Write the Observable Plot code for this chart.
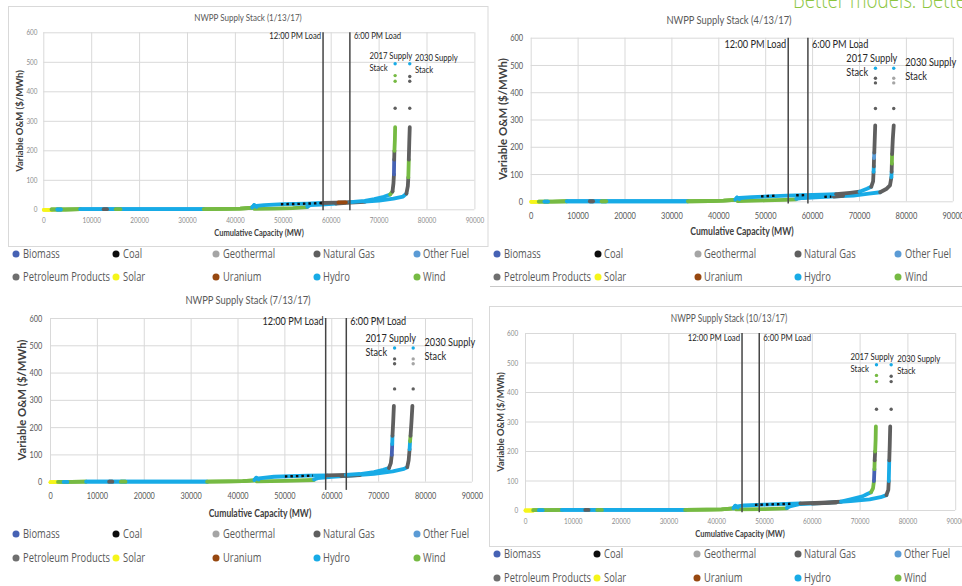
<!DOCTYPE html>
<html>
<head>
<meta charset="utf-8">
<script src="https://cdn.jsdelivr.net/npm/d3@7"></script>
<script src="https://cdn.jsdelivr.net/npm/@observablehq/plot@0.6"></script>
<style>
  html, body { margin: 0; padding: 0; background: #fff; }
  body { position: relative; width: 962px; height: 586px; overflow: hidden; font-family: Lato, "Open Sans", sans-serif; }
  .abs { position: absolute; white-space: nowrap; line-height: 1; }
  .ctr { transform: translate(-50%, -50%) scaleX(0.78); }
  .title { color: #595959; }
  .xtitle { font-weight: 700; color: #404040; }
  .ytitle { font-weight: 700; color: #404040; transform: translate(-50%, -50%) rotate(-90deg); }
  .lg { font-family: "Open Sans", sans-serif; font-size: 12px; color: #595959; transform-origin: 0 50%; transform: translateY(-50%) scaleX(0.78); }
  .mk { width: 7px; height: 7px; border-radius: 50%; transform: translate(-50%, -50%); }
  svg.frames { position: absolute; left: 0; top: 0; }
</style>
</head>
<body>
<svg class="frames" width="962" height="586">
  <rect x="8.5" y="6.5" width="479.5" height="240" fill="none" stroke="#d9d9d9"/>
  <rect x="489.5" y="306.5" width="480" height="240" fill="none" stroke="#d9d9d9"/>
  <line x1="490" x2="962" y1="286.5" y2="286.5" stroke="#c8c8c8"/>
</svg>
<script>
// Fuel types and their marker colours
const fuelNames = ["Biomass", "Coal", "Geothermal", "Natural Gas", "Other Fuel",
                   "Petroleum Products", "Solar", "Uranium", "Hydro", "Wind"];
const fuelColors = ["#4662b4", "#0d0d0d", "#a5a5a5", "#5f5f5f", "#5b9bd5",
                    "#6f6f6f", "#f5f51a", "#974810", "#18abe6", "#76ba43"];

const capacityTicks = [0, 10000, 20000, 30000, 40000, 50000, 60000, 70000, 80000, 90000];
const costTicks = [0, 100, 200, 300, 400, 500, 600];

const stackDates = ["1/13/17", "4/13/17", "7/13/17", "10/13/17"];
const noonLoadMW = [58300, 54800, 58700, 45300];
const eveningLoadMW = [63900, 59000, 63100, 48900];

// Low-cost end of the stack, common to both stack years: [fuel, [[MW, $/MWh], ...]]
const sharedRuns = [
  ["Solar", [[0, 0], [1600, 0]]],
  ["Wind", [[1600, 1], [4500, 1], [7600, 2]]],
  ["Hydro", [[2800, 1], [3600, 1]]],
  ["Hydro", [[7600, 2], [20000, 2], [33400, 2]]],
  ["Natural Gas", [[12500, 2], [13200, 2]]],
  ["Wind", [[15000, 2], [16000, 2]]],
  ["Wind", [[33400, 2], [38000, 3], [41000, 4], [43500, 7]]],
  ["Hydro", [[43500, 8], [43900, 16], [44400, 10]]]
];

// January
const janStack2017 = [
  ["Hydro", [[44400, 13], [46000, 16], [50000, 19], [55000, 21], [58000, 23]]],
  ["Coal", [[49500, 19], [53000, 20], [58500, 23]]],
  ["Natural Gas", [[58000, 23], [61000, 24], [64000, 26]]],
  ["Uranium", [[61500, 25], [63000, 25.5]]],
  ["Hydro", [[64000, 26], [67000, 30], [69000, 36], [71000, 44], [72300, 52]]],
  ["Wind", [[72300, 52], [72800, 62]]],
  ["Natural Gas", [[72800, 62], [73000, 90], [73100, 120]]],
  ["Biomass", [[73100, 120], [73150, 170]]],
  ["Natural Gas", [[73150, 170], [73200, 200]]],
  ["Wind", [[73200, 200], [73300, 240], [73350, 280]]]
];
const janStack2030 = [
  ["Wind", [[44000, 3], [48000, 4], [52000, 6], [55000, 9]]],
  ["Hydro", [[55000, 10], [55600, 16], [58000, 18], [61000, 21]]],
  ["Natural Gas", [[61000, 21], [64000, 24], [67000, 27]]],
  ["Hydro", [[67000, 28], [70000, 31], [73000, 38], [75000, 45], [75700, 55]]],
  ["Natural Gas", [[75700, 55], [76000, 80], [76100, 110]]],
  ["Wind", [[76100, 110], [76200, 170]]],
  ["Natural Gas", [[76200, 170], [76300, 230], [76400, 280]]]
];
const janPeakers = [
  [73350, 495, "Hydro"], [73350, 455, "Wind"], [73350, 436, "Wind"], [73350, 344, "Natural Gas"],
  [76400, 495, "Hydro"], [76400, 452, "Natural Gas"], [76400, 436, "Natural Gas"], [76400, 344, "Natural Gas"]
];
const janTags = [["2017 Supply\nStack", 68000, 503], ["2030 Supply\nStack", 77500, 496]];

// April
const aprStack2017 = [
  ["Hydro", [[44400, 14], [47000, 17], [54500, 23], [58000, 24]]],
  ["Coal", [[49000, 20], [52000, 22]]],
  ["Coal", [[56500, 24], [58500, 24.5]]],
  ["Hydro", [[58000, 24], [62000, 26], [65000, 28]]],
  ["Natural Gas", [[65000, 28], [68000, 33], [70000, 37]]],
  ["Hydro", [[70000, 37], [71600, 48], [72500, 55]]],
  ["Natural Gas", [[72500, 55], [72900, 75], [73000, 110]]],
  ["Hydro", [[73000, 110], [73050, 130]]],
  ["Natural Gas", [[73050, 130], [73100, 160]]],
  ["Other Fuel", [[73100, 160], [73150, 180]]],
  ["Natural Gas", [[73150, 180], [73250, 230], [73350, 280]]]
];
const aprStack2030 = [
  ["Wind", [[44000, 3], [50000, 5], [54000, 7], [56500, 9]]],
  ["Hydro", [[56500, 11], [58000, 14], [61600, 17], [65000, 20], [68700, 23], [72000, 30], [74400, 35]]],
  ["Coal", [[62500, 18], [64000, 19]]],
  ["Natural Gas", [[64500, 19.5], [66500, 21.5]]],
  ["Natural Gas", [[74400, 35], [75800, 48], [76500, 60], [76800, 90]]],
  ["Hydro", [[76800, 90], [76850, 110]]],
  ["Natural Gas", [[76850, 110], [76900, 140]]],
  ["Wind", [[76900, 140], [76950, 175]]],
  ["Natural Gas", [[76950, 175], [77100, 230], [77300, 280]]]
];
const aprPeakers = [
  [73400, 490, "Hydro"], [73400, 453, "Natural Gas"], [73400, 436, "Natural Gas"], [73400, 342, "Natural Gas"],
  [77300, 490, "Hydro"], [77300, 453, "Geothermal"], [77300, 436, "Geothermal"], [77300, 342, "Natural Gas"]
];
const aprTags = [["2017 Supply\nStack", 67200, 504], ["2030 Supply\nStack", 79750, 489]];

// July
const julStack2017 = [
  ["Hydro", [[44400, 14], [47700, 20], [54800, 24], [59000, 25]]],
  ["Coal", [[50000, 21], [56000, 24]]],
  ["Natural Gas", [[59000, 25], [63000, 27]]],
  ["Hydro", [[63000, 27], [66000, 30], [69000, 37], [71000, 45], [72200, 52]]],
  ["Natural Gas", [[72200, 52], [72600, 70], [72800, 100]]],
  ["Biomass", [[72800, 100], [72900, 140]]],
  ["Hydro", [[72900, 140], [72950, 170]]],
  ["Natural Gas", [[72950, 170], [73100, 220], [73250, 280]]]
];
const julStack2030 = [
  ["Wind", [[44000, 3], [50000, 5], [56200, 8]]],
  ["Hydro", [[56200, 10], [57000, 15], [60000, 20], [64000, 24], [69000, 31], [73000, 40], [75400, 49], [76100, 55]]],
  ["Natural Gas", [[62000, 22], [66000, 26]]],
  ["Natural Gas", [[76100, 55], [76400, 80], [76600, 120]]],
  ["Hydro", [[76600, 120], [76700, 150]]],
  ["Wind", [[76700, 150], [76800, 170]]],
  ["Natural Gas", [[76800, 170], [77000, 220], [77200, 280]]]
];
const julPeakers = [
  [73400, 492, "Hydro"], [73400, 452, "Natural Gas"], [73400, 434, "Natural Gas"], [73400, 342, "Natural Gas"],
  [77370, 492, "Hydro"], [77370, 452, "Geothermal"], [77370, 434, "Geothermal"], [77370, 342, "Natural Gas"]
];
const julTags = [["2017 Supply\nStack", 67200, 505], ["2030 Supply\nStack", 79800, 489]];

// October
const octStack2017 = [
  ["Hydro", [[44400, 14], [45700, 17], [50000, 20], [57500, 24]]],
  ["Coal", [[48000, 19], [56000, 23]]],
  ["Natural Gas", [[57500, 24], [62000, 27], [66000, 30]]],
  ["Hydro", [[66000, 30], [68000, 38], [70500, 48], [71500, 56], [72300, 62]]],
  ["Wind", [[72300, 62], [72700, 75], [72900, 100]]],
  ["Biomass", [[72900, 100], [73000, 140]]],
  ["Wind", [[73000, 140], [73050, 170]]],
  ["Natural Gas", [[73050, 170], [73150, 200]]],
  ["Wind", [[73150, 200], [73250, 240], [73300, 285]]]
];
const octStack2030 = [
  ["Wind", [[44000, 4], [50000, 5], [54700, 7]]],
  ["Hydro", [[54700, 9], [55500, 15], [57500, 22], [62000, 25], [68000, 32], [72000, 38], [74300, 45], [75500, 52]]],
  ["Natural Gas", [[60000, 23.5], [65000, 27]]],
  ["Natural Gas", [[75500, 52], [75900, 70], [76000, 100]]],
  ["Hydro", [[76000, 100], [76100, 170]]],
  ["Natural Gas", [[76100, 170], [76200, 220], [76300, 285]]]
];
const octPeakers = [
  [73430, 494, "Hydro"], [73430, 458, "Wind"], [73430, 437, "Wind"], [73430, 343, "Natural Gas"],
  [76500, 494, "Hydro"], [76500, 455, "Natural Gas"], [76500, 437, "Natural Gas"], [76500, 343, "Natural Gas"]
];
const octTags = [["2017 Supply\nStack", 68000, 504], ["2030 Supply\nStack", 77760, 497]];

const stacks2017 = [janStack2017, aprStack2017, julStack2017, octStack2017];
const stacks2030 = [janStack2030, aprStack2030, julStack2030, octStack2030];
const peakers = [janPeakers, aprPeakers, julPeakers, octPeakers];
const stackTags = [janTags, aprTags, julTags, octTags];

// Page placement and type sizes of the four charts
const layouts = [
  {left: 0, top: 0, w: 490, h: 246, ml: 43.3, mr: 15.6, mt: 32.3, mb: 36.7,
   title: [248, 17.3], xTitle: [259, 233], yTitle: [19.5, 120.8], legendX: 16, legendY: [254, 277],
   fTitle: 10.3, fAxis: 9.6, fY: 9.5, fTick: 8.2, fNote: 9.9, tickColor: "#8c8c8c",
   xPad: 7.7, yPad: 6.3, ruleFoot: -3, noteY: 590},
  {left: 488, top: 0, w: 474, h: 246, ml: 42.7, mr: 9.2, mt: 37.7, mb: 44.7,
   title: [729, 20], xTitle: [741.7, 231], yTitle: [502.7, 119], legendX: 497.3, legendY: [254, 277],
   fTitle: 12, fAxis: 11.1, fY: 11.4, fTick: 9.6, fNote: 11.8, tickColor: "#595959",
   xPad: 10.2, yPad: 8, ruleFoot: -8, noteY: 578},
  {left: 0, top: 286, w: 490, h: 246, ml: 50, mr: 18.1, mt: 32, mb: 50.3,
   title: [248, 300], xTitle: [260, 511.7], yTitle: [21.7, 400], legendX: 16, legendY: [534.3, 557.7],
   fTitle: 12, fAxis: 11, fY: 11.3, fTick: 9.4, fNote: 11.7, tickColor: "#595959",
   xPad: 10.6, yPad: 8.3, ruleFoot: -30, noteY: 590},
  {left: 488, top: 306, w: 474, h: 240, ml: 37, mr: 6.8, mt: 27, mb: 36,
   title: [729.3, 318.3], xTitle: [740, 534.3], yTitle: [500.7, 421.7], legendX: 497, legendY: [554.3, 577.7],
   fTitle: 10.7, fAxis: 9.6, fY: 9.3, fTick: 8.2, fNote: 10, tickColor: "#8c8c8c",
   xPad: 8, yPad: 7.3, ruleFoot: -8, noteY: 585}
];

const SQUEEZE = 0.78;
const SVGNS = "http://www.w3.org/2000/svg";

function toRows(runs, key) {
  return runs.flatMap(([fuel, pts], i) =>
    pts.map(([mw, cost]) => ({run: key + i, fuel, mw, cost})));
}

// Narrow the set width of SVG labels: each text is wrapped in a group that
// scales horizontally about the label's own anchor point.
function squeezeText(svg, k) {
  for (const t of Array.from(svg.querySelectorAll("text"))) {
    const tr = t.getAttribute("transform") || "";
    if (tr.includes("rotate")) continue;
    const x = parseFloat(t.getAttribute("x")) || 0;
    const y = parseFloat(t.getAttribute("y")) || 0;
    let ax = x, ay = y;
    const list = t.transform && t.transform.baseVal;
    if (list && list.numberOfItems > 0) {
      const m = list.consolidate().matrix;
      ax = m.a * x + m.c * y + m.e;
      ay = m.b * x + m.d * y + m.f;
    }
    const g = document.createElementNS(SVGNS, "g");
    g.setAttribute("transform", `translate(${ax} ${ay}) scale(${k} 1) translate(${-ax} ${-ay})`);
    t.parentNode.insertBefore(g, t);
    g.appendChild(t);
  }
}

function addDiv(cls, text, x, y, size) {
  const d = document.createElement("div");
  d.className = "abs " + cls;
  d.textContent = text;
  d.style.left = x + "px";
  d.style.top = y + "px";
  if (size) d.style.fontSize = size + "px";
  document.body.appendChild(d);
  return d;
}

const lineStyle = {x: "mw", y: "cost", z: "run", stroke: "fuel", strokeWidth: 3.8,
                   strokeLinecap: "round", strokeLinejoin: "round"};

stackDates.forEach((date, k) => {
  const L = layouts[k];
  const rows2030 = toRows([...sharedRuns, ...stacks2030[k]], "b");
  const rows2017 = toRows([...sharedRuns, ...stacks2017[k]], "a");
  const coalRows = [...rows2030, ...rows2017].filter(d => d.fuel === "Coal");
  const dots = peakers[k].map(([mw, cost, fuel]) => ({mw, cost, fuel}));
  const tags = stackTags[k].map(([text, mw, cost]) => ({text, mw, cost}));
  const loads = [{label: "12:00 PM Load", mw: noonLoadMW[k]}, {label: "6:00 PM Load", mw: eveningLoadMW[k]}];

  const chart = Plot.plot({
    width: L.w, height: L.h,
    marginLeft: L.ml, marginRight: L.mr, marginTop: L.mt, marginBottom: L.mb,
    style: {fontFamily: "Lato, sans-serif", background: "transparent", overflow: "visible"},
    x: {domain: [0, 90000], label: null},
    y: {domain: [0, 600], label: null},
    color: {domain: fuelNames, range: fuelColors},
    marks: [
      Plot.gridX(capacityTicks, {stroke: "#d9d9d9", strokeOpacity: 1}),
      Plot.gridY(costTicks, {stroke: "#d9d9d9", strokeOpacity: 1}),
      Plot.axisX({ticks: capacityTicks, tickSize: 0, tickPadding: L.xPad, tickFormat: d => String(d),
                  fontSize: L.fTick, color: L.tickColor, label: null}),
      Plot.axisY({ticks: costTicks, tickSize: 0, tickPadding: L.yPad, tickFormat: d => String(d),
                  fontSize: L.fTick, color: L.tickColor, label: null}),
      Plot.line(rows2030.filter(d => d.fuel !== "Coal"), lineStyle),
      Plot.line(rows2017.filter(d => d.fuel !== "Coal"), lineStyle),
      Plot.line(coalRows, {...lineStyle, strokeWidth: 2.4, strokeDasharray: "2.5,3", strokeLinecap: "butt"}),
      Plot.dot(dots, {x: "mw", y: "cost", fill: "fuel", r: 1.7}),
      Plot.ruleX(loads, {x: "mw", y1: () => 600, y2: () => L.ruleFoot, stroke: "#454545", strokeWidth: 1.5}),
      Plot.text(loads.slice(0, 1), {x: "mw", y: () => L.noteY, text: "label", textAnchor: "end", dx: -2,
                                     fontSize: L.fNote, fill: "#262626"}),
      Plot.text(loads.slice(1), {x: "mw", y: () => L.noteY, text: "label", textAnchor: "start", dx: 4,
                                  fontSize: L.fNote, fill: "#262626"}),
      Plot.text(tags, {x: "mw", y: "cost", text: "text", textAnchor: "start", lineAnchor: "middle",
                       lineHeight: 1.2, fontSize: L.fNote, fill: "#262626"})
    ]
  });
  squeezeText(chart, SQUEEZE);
  chart.style.position = "absolute";
  chart.style.left = L.left + "px";
  chart.style.top = L.top + "px";
  document.body.appendChild(chart);

  addDiv("ctr title", `NWPP Supply Stack (${date})`, L.title[0], L.title[1], L.fTitle);
  addDiv("ctr xtitle", "Cumulative Capacity (MW)", L.xTitle[0], L.xTitle[1], L.fAxis);
  addDiv("ytitle", "Variable O&M ($/MWh)", L.yTitle[0], L.yTitle[1], L.fY);

  fuelNames.forEach((fuel, i) => {
    const cx = L.legendX + (i % 5) * 100.2;
    const cy = L.legendY[Math.floor(i / 5)];
    const m = addDiv("mk", "", cx, cy);
    m.style.background = fuelColors[i];
    addDiv("lg", fuel, cx + 6.5, cy);
  });
});

// Slide tagline along the top edge
const tag = addDiv("", "Better models. Better decisions.", 793, -13.5, 24);
tag.style.fontFamily = "'Open Sans', sans-serif";
tag.style.fontWeight = "300";
tag.style.color = "#8cc63f";
tag.style.transformOrigin = "0 0";
tag.style.transform = "scaleX(0.78)";
tag.style.lineHeight = "24px";
</script>
</body>
</html>
